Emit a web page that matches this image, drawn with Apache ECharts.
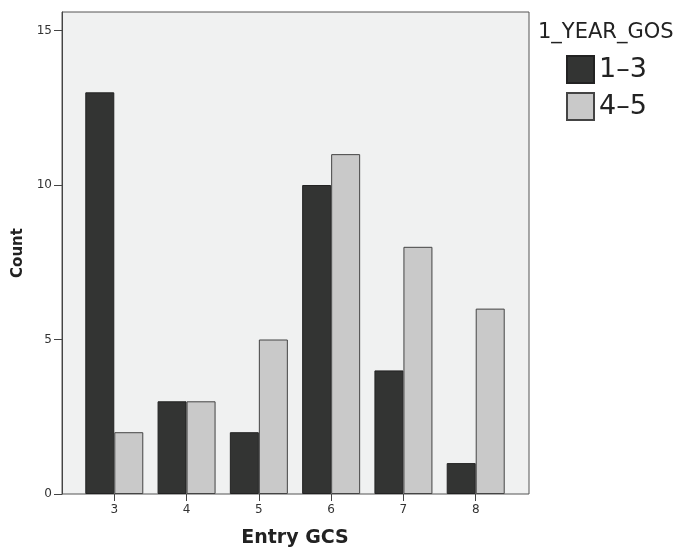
<!DOCTYPE html>
<html><head><meta charset="utf-8">
<script src="https://cdn.jsdelivr.net/npm/echarts@6/dist/echarts.min.js"></script>
<style>html,body{margin:0;padding:0;background:#fff}#c{width:684px;height:548px}</style>
</head><body><div id="c"></div>
<script>
const categories = ['3', '4', '5', '6', '7', '8'];
const seriesNames = ['1\u20133', '4\u20135'];
const low = [13, 3, 2, 10, 4, 1];
const high = [2, 3, 5, 11, 8, 6];

const chart = echarts.init(document.getElementById('c'));
const font = '"DejaVu Sans", sans-serif';
chart.setOption({
  animation: false,
  backgroundColor: '#ffffff',
  title: {
    text: '1_YEAR_GOS', left: 533, top: 17, padding: [5, 5, 5, 5],
    textStyle: { fontFamily: font, fontSize: 21, fontWeight: 'normal', color: '#222' }
  },
  legend: {
    orient: 'vertical', left: 566, top: 55, padding: 0, itemWidth: 27, itemHeight: 27, itemGap: 8,
    icon: 'rect',
    textStyle: { fontFamily: font, fontSize: 27, color: '#222' },
    data: seriesNames
  },
  grid: [
    { left: 62, top: 12, right: 155, bottom: 54, show: true, outerBoundsMode: 'none',
      backgroundColor: '#f0f1f1', borderColor: '#555', borderWidth: 1 },
    { left: 78.15, top: 12, right: 172.15, bottom: 54, show: false, outerBoundsMode: 'none' }
  ],
  xAxis: [
    { gridIndex: 0, type: 'value', min: 0, max: 1, show: false },
    {
      gridIndex: 1, type: 'category', data: categories,
      name: 'Entry GCS', nameLocation: 'middle', nameGap: 35,
      nameTextStyle: { fontFamily: font, fontSize: 19, fontWeight: 'bold', color: '#222' },
      axisLine: { show: false },
      axisTick: { show: true, alignWithLabel: true, length: 7, lineStyle: { color: '#444' } },
      axisLabel: { fontFamily: font, fontSize: 12, color: '#333', margin: 10 },
      splitLine: { show: false }
    }
  ],
  yAxis: [
    {
      gridIndex: 0, type: 'value', min: 0, max: 15.6, interval: 5,
      name: 'Count', nameLocation: 'middle', nameGap: 36, nameRotate: 90,
      nameTextStyle: { fontFamily: font, fontSize: 15, fontWeight: 'bold', color: '#222' },
      axisLine: { show: true, lineStyle: { color: '#444' } },
      axisTick: { show: true, length: 8, lineStyle: { color: '#444' } },
      axisLabel: { showMaxLabel: false, fontFamily: font, fontSize: 12, color: '#333', margin: 10 },
      splitLine: { show: false }
    },
    { gridIndex: 1, type: 'value', min: 0, max: 15.6, show: false }
  ],
  series: [
    {
      name: seriesNames[0], type: 'bar', xAxisIndex: 1, yAxisIndex: 1, barWidth: 29, barGap: '0%',
      itemStyle: { color: '#333433', borderColor: '#222', borderWidth: 1 },
      data: low
    },
    {
      name: seriesNames[1], type: 'bar', xAxisIndex: 1, yAxisIndex: 1, barWidth: 29, barGap: '0%',
      itemStyle: { color: '#c9c9c9', borderColor: '#444', borderWidth: 1 },
      data: high
    }
  ]
});
</script></body></html>
